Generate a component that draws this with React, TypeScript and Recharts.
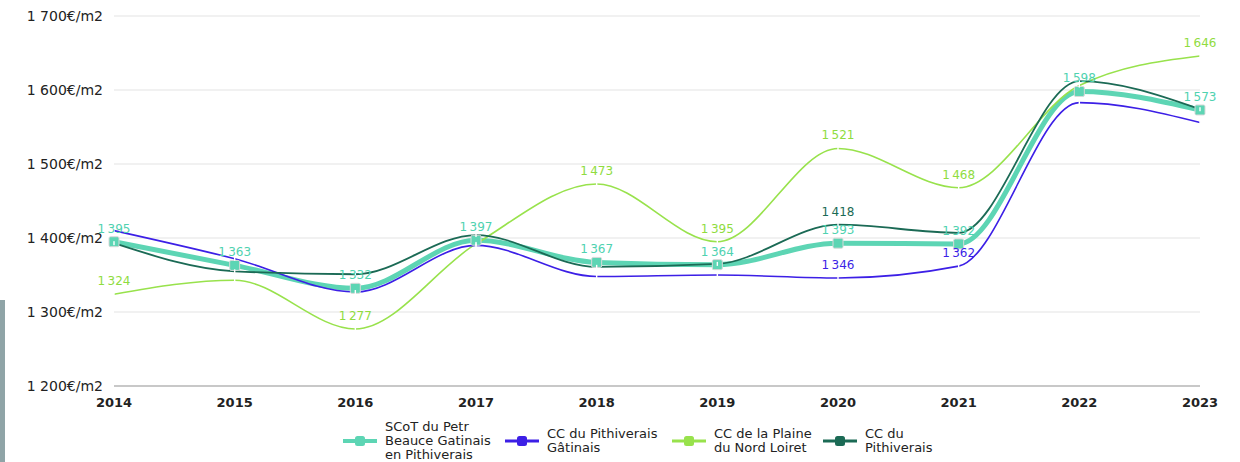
import { LineChart, Line, XAxis, YAxis, CartesianGrid, LabelList } from "recharts";

const years = ["2014", "2015", "2016", "2017", "2018", "2019", "2020", "2021", "2022", "2023"];
const scotValues = [1395, 1363, 1332, 1397, 1367, 1364, 1393, 1392, 1598, 1573];
const gatinaisValues = [1410, 1372, 1327, 1390, 1348, 1350, 1346, 1362, 1583, 1556];
const plaineValues = [1324, 1343, 1277, 1392, 1473, 1395, 1521, 1468, 1606, 1646];
const pithiveraisValues = [1393, 1355, 1351, 1404, 1361, 1365, 1418, 1407, 1612, 1574];
const yTicks = [1200, 1300, 1400, 1500, 1600, 1700];

// which points carry a value label in the source
const scotLabels = [0, 1, 2, 3, 4, 5, 6, 7, 8, 9];
const gatinaisLabels = [6, 7];
const plaineLabels = [0, 2, 4, 5, 6, 7, 9];
const pithiveraisLabels = [6];

const FONT = "'DejaVu Sans', Verdana, sans-serif";

const series = [
  { key: "scot", name: "SCoT du Petr\nBeauce Gatinais\nen Pithiverais", color: "#5dd5b4", labels: scotLabels },
  { key: "gatinais", name: "CC du Pithiverais\nGâtinais", color: "#3c1fe6", labels: gatinaisLabels },
  { key: "plaine", name: "CC de la Plaine\ndu Nord Loiret", color: "#98e24c", labels: plaineLabels },
  { key: "pithiverais", name: "CC du\nPithiverais", color: "#1b6a55", labels: pithiveraisLabels },
];

const rows = years.map((year, i) => ({
  year,
  scot: scotValues[i],
  gatinais: gatinaisValues[i],
  plaine: plaineValues[i],
  pithiverais: pithiveraisValues[i],
}));

const fmt = (v: number) => `${Math.floor(v / 1000)}\u202f${String(v % 1000).padStart(3, "0")}`;
const fmtTick = (v: number) => `${Math.floor(v / 1000)} ${String(v % 1000).padStart(3, "0")}€/m2`;

function labelRenderer(color: string, show: number[]) {
  return (props: any) => {
    const { x, y, value, index } = props;
    if (!show.includes(index)) return null;
    return (
      <text x={x} y={y - 9} textAnchor="middle" fill={color} fontSize={12} fontFamily={FONT}>
        {fmt(value)}
      </text>
    );
  };
}

function SquareDot(props: any) {
  const { cx, cy } = props;
  if (cx == null || cy == null) return null;
  return <rect x={cx - 5} y={cy - 5} width={10} height={10} rx={1.5} fill="#5dd5b4" stroke="#d9d9d9" strokeWidth={1} />;
}

function TickDot(props: any) {
  const { cx, cy } = props;
  if (cx == null || cy == null) return null;
  return <rect x={cx - 0.7} y={cy - 2} width={1.4} height={4} fill="#ffffff" />;
}

const legendWidths = [162, 167, 151, 110];

export default function App() {
  return (
    <div style={{ position: "absolute", left: 0, top: 0, width: 1240, height: 462, background: "#fff", fontFamily: FONT }}>
      <div style={{ position: "absolute", left: 0, top: 300, width: 5, height: 162, background: "#8fa4a7" }} />
      <LineChart width={1240} height={462} data={rows} margin={{ top: 16, right: 40, bottom: 46, left: 0 }}>
        <CartesianGrid vertical={false} stroke="#ececec" strokeWidth={1.5} />
        <XAxis
          dataKey="year"
          axisLine={{ stroke: "#c8c8c8", strokeWidth: 2 }}
          tickLine={false}
          tickSize={0}
          tickMargin={12}
          interval={0}
          tick={{ fill: "#222", fontSize: 13, fontWeight: 700, fontFamily: FONT }}
        />
        <YAxis
          width={114}
          domain={[1200, 1700]}
          ticks={yTicks}
          axisLine={false}
          tickLine={false}
          tickSize={0}
          tickMargin={11}
          tickFormatter={fmtTick}
          tick={{ fill: "#222", fontSize: 14, fontFamily: FONT }}
        />
        <Line
          type="monotone"
          dataKey="scot"
          stroke="#5dd5b4"
          strokeWidth={5}
          dot={<SquareDot />}
          activeDot={false}
          isAnimationActive={false}
        >
          <LabelList dataKey="scot" content={labelRenderer("#4fd2b0", scotLabels)} />
        </Line>
        <Line type="monotone" dataKey="plaine" stroke="#98e24c" strokeWidth={1.6} dot={<TickDot />} activeDot={false} isAnimationActive={false}>
          <LabelList dataKey="plaine" content={labelRenderer("#8fdc3f", plaineLabels)} />
        </Line>
        <Line type="monotone" dataKey="gatinais" stroke="#3c1fe6" strokeWidth={1.6} dot={<TickDot />} activeDot={false} isAnimationActive={false}>
          <LabelList dataKey="gatinais" content={labelRenderer("#3c1fe6", gatinaisLabels)} />
        </Line>
        <Line type="monotone" dataKey="pithiverais" stroke="#1b6a55" strokeWidth={1.8} dot={<TickDot />} activeDot={false} isAnimationActive={false}>
          <LabelList dataKey="pithiverais" content={labelRenderer("#1b6a55", pithiveraisLabels)} />
        </Line>
      </LineChart>
      <div style={{ position: "absolute", left: 343, top: 420, height: 42, display: "flex", alignItems: "center" }}>
        {series.map((s, i) => (
          <div key={s.key} style={{ width: legendWidths[i], display: "flex", alignItems: "center" }}>
            <svg width={34} height={14} style={{ flexShrink: 0 }}>
              <line x1={0} y1={7} x2={34} y2={7} stroke={s.color} strokeWidth={i === 0 ? 4 : 3} />
              <rect x={12} y={2} width={10} height={10} rx={2.5} fill={s.color} />
            </svg>
            <div style={{ marginLeft: 8, fontSize: 13, lineHeight: "14px", color: "#222", whiteSpace: "pre-line" }}>{s.name}</div>
          </div>
        ))}
      </div>
    </div>
  );
}
